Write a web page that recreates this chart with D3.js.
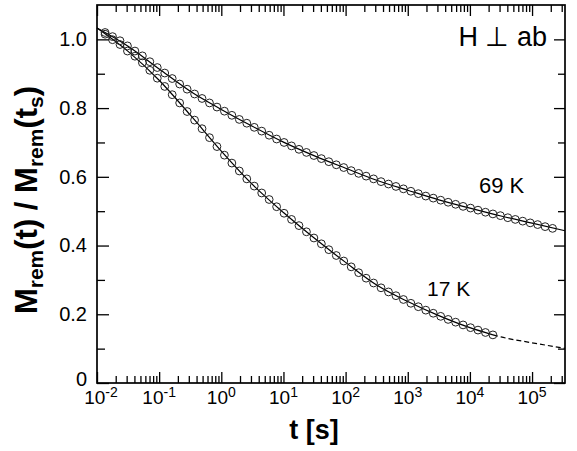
<!DOCTYPE html>
<html>
<head>
<meta charset="utf-8">
<script src="https://cdn.jsdelivr.net/npm/d3@7"></script>
<style>
  body { margin: 0; background: #fff; }
  text { font-family: Arial, "Liberation Sans", Helvetica, sans-serif; fill: #000; }
</style>
</head>
<body>
<div id="chart"></div>
<script>
const chartWidth = 577
const chartHeight = 451
const margin = { top: 5, right: 12, bottom: 68, left: 97 }

// log10(t / s) of the measured points (same grid for both temperatures)
const logTime = [-1.87, -1.75, -1.63, -1.51, -1.39, -1.27, -1.15, -1.03, -0.91, -0.79,
    -0.67, -0.55, -0.43, -0.31, -0.19, -0.07, 0.05, 0.17, 0.29, 0.41,
    0.53, 0.65, 0.77, 0.89, 1.01, 1.13, 1.25, 1.37, 1.49, 1.61,
    1.73, 1.85, 1.97, 2.09, 2.21, 2.33, 2.45, 2.57, 2.69, 2.81,
    2.93, 3.05, 3.17, 3.29, 3.41, 3.53, 3.65, 3.77, 3.89, 4.01,
    4.13, 4.25, 4.37, 4.49, 4.61, 4.73, 4.85, 4.97, 5.09, 5.21, 5.33]

const m69 = [1.020, 1.008, 0.996, 0.981, 0.966, 0.952, 0.935, 0.918, 0.902, 0.886,
    0.870, 0.855, 0.841, 0.828, 0.815, 0.803, 0.791, 0.779, 0.767, 0.756,
    0.744, 0.733, 0.721, 0.710, 0.700, 0.690, 0.680, 0.671, 0.662, 0.653,
    0.644, 0.635, 0.627, 0.618, 0.610, 0.602, 0.594, 0.586, 0.579, 0.572,
    0.565, 0.558, 0.551, 0.544, 0.538, 0.532, 0.526, 0.520, 0.514, 0.509,
    0.503, 0.497, 0.492, 0.487, 0.481, 0.476, 0.471, 0.466, 0.461, 0.455, 0.450]

const m17 = [1.015, 0.999, 0.985, 0.966, 0.951, 0.932, 0.910, 0.887, 0.863, 0.839,
    0.815, 0.790, 0.765, 0.740, 0.714, 0.688, 0.663, 0.640, 0.617, 0.594,
    0.573, 0.553, 0.534, 0.513, 0.494, 0.476, 0.458, 0.440, 0.422, 0.405,
    0.388, 0.371, 0.355, 0.338, 0.321, 0.305, 0.291, 0.277, 0.265, 0.254,
    0.243, 0.232, 0.222, 0.212, 0.203, 0.194, 0.185, 0.177, 0.169, 0.161,
    0.154, 0.147, 0.140]

// fitted curves
const fitLogTime = [-2, -1.5, -1, -0.5, 0, 0.5, 1, 1.5, 2, 2.5, 3, 3.5, 4, 4.5, 5, 5.53]
const fit69 = [1.033, 0.980, 0.914, 0.849, 0.796, 0.747, 0.701, 0.661, 0.625, 0.590, 0.561, 0.533, 0.509, 0.486, 0.465, 0.443]

const fit17LogTime = [-2, -1.5, -1, -0.5, 0, 0.5, 1, 1.5, 2, 2.5, 3, 3.5, 4, 4.37]
const fit17 = [1.033, 0.965, 0.881, 0.780, 0.675, 0.578, 0.496, 0.421, 0.351, 0.285, 0.237, 0.196, 0.161, 0.140]

// extrapolation beyond the last 17 K point
const ext17LogTime = [4.37, 4.5, 5, 5.53]
const ext17 = [0.140, 0.134, 0.117, 0.101]

const yTicks = [0, 0.2, 0.4, 0.6, 0.8, 1.0]
const yMinor = [0.1, 0.3, 0.5, 0.7, 0.9]
const xDecades = [-2, -1, 0, 1, 2, 3, 4, 5]

const svg = d3.select('#chart')
    .append('svg')
    .attr('width', chartWidth)
    .attr('height', chartHeight)

const x0 = margin.left
const x1 = chartWidth - margin.right
const y0 = chartHeight - margin.bottom
const y1 = margin.top

const xScale = d3.scaleLog()
    .domain([0.01, Math.pow(10, 5.53)])
    .range([x0, x1])

const yScale = d3.scaleLinear()
    .domain([0, 1.1])
    .range([y0, y1])

const majorX = xDecades.map(d => Math.pow(10, d))
const minorX = xScale.ticks().filter(t => !majorX.some(m => Math.abs(m - t) / m < 1e-6))

// frame
svg.append('rect')
    .attr('x', x0)
    .attr('y', y1)
    .attr('width', x1 - x0)
    .attr('height', y0 - y1)
    .attr('fill', 'none')
    .attr('stroke', '#000')
    .attr('stroke-width', 1.7)

function tickAxis(axis, transform) {
    const g = svg.append('g')
        .attr('transform', transform)
        .call(axis)
    g.select('.domain').remove()
    g.selectAll('.tick line').attr('stroke', '#000').attr('stroke-width', 1.3)
    return g
}

tickAxis(d3.axisBottom(xScale).tickValues(majorX).tickSize(-11).tickFormat(''), `translate(0, ${y0})`)
tickAxis(d3.axisBottom(xScale).tickValues(minorX).tickSize(-7).tickFormat(''), `translate(0, ${y0})`)
tickAxis(d3.axisTop(xScale).tickValues(majorX).tickSize(-11).tickFormat(''), `translate(0, ${y1})`)
tickAxis(d3.axisTop(xScale).tickValues(minorX).tickSize(-7).tickFormat(''), `translate(0, ${y1})`)

const yLeft = tickAxis(d3.axisLeft(yScale).tickValues(yTicks).tickSize(-12).tickPadding(10)
    .tickFormat(d => d === 0 ? '0' : d3.format('.1f')(d)), `translate(${x0}, 0)`)
yLeft.selectAll('text')
    .attr('font-size', 20)
    .attr('font-family', 'Arial, "Liberation Sans", sans-serif')
// the zero label sits a little higher so it clears 10^-2
yLeft.selectAll('.tick text').filter(d => d === 0).attr('y', -4)
tickAxis(d3.axisLeft(yScale).tickValues(yMinor).tickSize(-8).tickFormat(''), `translate(${x0}, 0)`)
tickAxis(d3.axisRight(yScale).tickValues(yTicks).tickSize(-11).tickFormat(''), `translate(${x1}, 0)`)
tickAxis(d3.axisRight(yScale).tickValues(yMinor).tickSize(-7).tickFormat(''), `translate(${x1}, 0)`)

// x tick labels 10^n
const xLabels = svg.selectAll('.xlab')
    .data(xDecades)
    .join('text')
    .attr('class', 'xlab')
    .attr('x', d => xScale(Math.pow(10, d)) + (d === -2 ? 4 : 0))
    .attr('y', y0 + 21)
    .attr('text-anchor', 'middle')
    .attr('font-size', 19)
xLabels.append('tspan').text('10')
xLabels.append('tspan')
    .attr('dy', -7)
    .attr('font-size', 14)
    .text(d => d < 0 ? '-' + Math.abs(d) : d)

// axis titles
svg.append('text')
    .attr('x', 314)
    .attr('y', 439)
    .attr('text-anchor', 'middle')
    .attr('font-size', 27)
    .attr('font-weight', 'bold')
    .text('t [s]')

const yTitle = svg.append('text')
    .attr('transform', 'translate(37, 200) rotate(-90)')
    .attr('text-anchor', 'middle')
    .attr('font-size', 31)
    .attr('font-weight', 'bold')
yTitle.append('tspan').text('M')
yTitle.append('tspan').attr('font-size', 21).attr('dy', 6).text('rem')
yTitle.append('tspan').attr('dy', -6).text('(t) / M')
yTitle.append('tspan').attr('font-size', 21).attr('dy', 6).text('rem')
yTitle.append('tspan').attr('dy', -6).text('(t')
yTitle.append('tspan').attr('font-size', 21).attr('dy', 6).text('s')
yTitle.append('tspan').attr('dy', -6).text(')')

// fitted lines
const line = d3.line()
    .x(d => xScale(Math.pow(10, d[0])))
    .y(d => yScale(d[1]))
    .curve(d3.curveMonotoneX)

svg.append('path')
    .datum(d3.zip(fitLogTime, fit69))
    .attr('d', line)
    .attr('fill', 'none')
    .attr('stroke', '#000')
    .attr('stroke-width', 1.2)

svg.append('path')
    .datum(d3.zip(fit17LogTime, fit17))
    .attr('d', line)
    .attr('fill', 'none')
    .attr('stroke', '#000')
    .attr('stroke-width', 1.2)

svg.append('path')
    .datum(d3.zip(ext17LogTime, ext17))
    .attr('d', line)
    .attr('fill', 'none')
    .attr('stroke', '#000')
    .attr('stroke-width', 1.2)
    .attr('stroke-dasharray', '5,3')

// measured points
const points = [
    { values: m69 },
    { values: m17 }
]
points.forEach(s => {
    svg.append('g')
        .selectAll('circle')
        .data(d3.zip(logTime.slice(0, s.values.length), s.values))
        .join('circle')
        .attr('cx', d => xScale(Math.pow(10, d[0])))
        .attr('cy', d => yScale(d[1]))
        .attr('r', 3.9)
        .attr('fill', 'none')
        .attr('stroke', '#222')
        .attr('stroke-width', 1)
})

// annotations
svg.append('text')
    .attr('x', 547)
    .attr('y', 46)
    .attr('text-anchor', 'end')
    .attr('font-size', 27)
    .text('H \u22A5 ab')

svg.append('text')
    .attr('x', 479)
    .attr('y', 193)
    .attr('font-size', 22)
    .text('69 K')

svg.append('text')
    .attr('x', 427)
    .attr('y', 296)
    .attr('font-size', 21)
    .text('17 K')
</script>
</body>
</html>
